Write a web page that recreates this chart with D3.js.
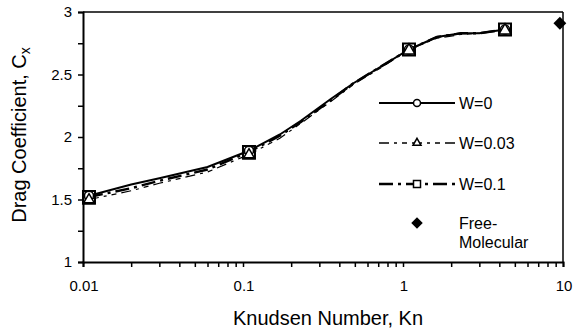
<!DOCTYPE html>
<html>
<head>
<meta charset="utf-8">
<script src="https://cdn.jsdelivr.net/npm/d3@7"></script>
<style>
  html, body { margin: 0; padding: 0; background: #fff; }
  svg { display: block; font-family: "Liberation Sans", Arial, sans-serif; }
</style>
</head>
<body>
<svg id="chart" width="576" height="335"></svg>
<script>
// Knudsen numbers along each computed curve
const kn = [0.0109, 0.02, 0.03, 0.06, 0.109, 0.17, 0.23, 0.35, 0.49, 0.72, 1.09, 1.63, 2.3, 3.0, 4.34];
// Drag coefficient for each wall parameter W
const cxW0   = [1.53, 1.62, 1.67, 1.76, 1.89, 2.02, 2.13, 2.30, 2.43, 2.56, 2.70, 2.80, 2.83, 2.83, 2.86];
const cxW003 = [1.50, 1.57, 1.63, 1.72, 1.86, 1.99, 2.11, 2.28, 2.42, 2.55, 2.70, 2.79, 2.82, 2.83, 2.86];
const cxW01  = [1.52, 1.59, 1.65, 1.74, 1.88, 2.01, 2.12, 2.29, 2.43, 2.56, 2.70, 2.80, 2.83, 2.83, 2.86];
// indices of the points that carry a marker
const markerIdx = [0, 4, 10, 14];
// free-molecular limit
const fmKn = [9.56];
const fmCx = [2.91];
// axis ticks
const xMajor = [0.01, 0.1, 1, 10];
const xMajorLabels = ["0.01", "0.1", "1", "10"];
const yTicks = [1, 1.25, 1.5, 1.75, 2, 2.25, 2.5, 2.75, 3];
const yLabels = ["1", "1.5", "2", "2.5", "3"];
const seriesNames = ["W=0", "W=0.03", "W=0.1"];

const svg = d3.select("#chart");
const x = d3.scaleLog().domain([0.01, 10]).range([83, 563]);
const y = d3.scaleLinear().domain([1, 3]).range([262, 12]);

// frame: top and right borders
svg.append("line").attr("x1", 83).attr("x2", 563).attr("y1", 12).attr("y2", 12)
  .attr("stroke", "#000").attr("stroke-width", 1.5);
svg.append("line").attr("x1", 563).attr("x2", 563).attr("y1", 12).attr("y2", 262)
  .attr("stroke", "#000").attr("stroke-width", 1.5);

// x axis with decade labels and minor ticks
const minor = [];
[0.01, 0.1, 1].forEach(d => { for (let k = 2; k <= 9; k++) minor.push(d * k); });
const xAxis = svg.append("g").attr("transform", "translate(0,262)")
  .call(d3.axisBottom(x).tickValues(xMajor.concat(minor)).tickSize(5).tickFormat(() => ""));
xAxis.select(".domain").attr("stroke-width", 2);
xAxis.selectAll(".tick line").attr("stroke-width", 1.5);
svg.append("g").selectAll("text").data(xMajor).join("text")
  .attr("x", d => x(d) + 1).attr("y", 291).attr("text-anchor", "middle")
  .attr("font-size", 15).text((d, i) => xMajorLabels[i]);

// y axis
const yAxis = svg.append("g").attr("transform", "translate(83,0)")
  .call(d3.axisLeft(y).tickValues(yTicks).tickSize(5).tickFormat(() => ""));
yAxis.select(".domain").attr("stroke-width", 2);
yAxis.selectAll(".tick line").attr("stroke-width", 1.5);
svg.append("g").selectAll("text").data(yLabels).join("text")
  .attr("x", 72).attr("y", d => y(+d) + 5).attr("text-anchor", "end")
  .attr("font-size", 15).text(d => d);

// axis titles
svg.append("text").attr("x", 328).attr("y", 325).attr("text-anchor", "middle")
  .attr("font-size", 20).text("Knudsen Number, Kn");
const yt = svg.append("text").attr("transform", "translate(26,135) rotate(-90)")
  .attr("text-anchor", "middle").attr("font-size", 20);
yt.append("tspan").text("Drag Coefficient, C");
yt.append("tspan").attr("font-size", 14).attr("dy", 4).text("x");

// curves
const styles = [
  { data: cxW0,   width: 2,   dash: null },
  { data: cxW003, width: 1.2, dash: "10,5,3,5,5,5" },
  { data: cxW01,  width: 2.4, dash: "14,5,3,5" }
];
const line = d3.line().x(d => x(d[0])).y(d => y(d[1]));
styles.forEach(s => {
  svg.append("path").datum(kn.map((k, i) => [k, s.data[i]]))
    .attr("d", line).attr("fill", "none").attr("stroke", "#000")
    .attr("stroke-width", s.width).attr("stroke-dasharray", s.dash);
});

// markers
const pts = (arr) => markerIdx.map(i => [kn[i], arr[i]]);
svg.append("g").selectAll("circle").data(pts(cxW0)).join("circle")
  .attr("cx", d => x(d[0])).attr("cy", d => y(d[1])).attr("r", 4.5)
  .attr("fill", "#fff").attr("stroke", "#000").attr("stroke-width", 1.5);
const tri = d3.symbol().type(d3.symbolTriangle).size(60);
svg.append("g").selectAll("path").data(pts(cxW003)).join("path")
  .attr("transform", d => `translate(${x(d[0])},${y(d[1]) + 1})`).attr("d", tri)
  .attr("fill", "#fff").attr("stroke", "#000").attr("stroke-width", 1.5);
svg.append("g").selectAll("rect").data(pts(cxW01)).join("rect")
  .attr("x", d => x(d[0]) - 6).attr("y", d => y(d[1]) - 6).attr("width", 12).attr("height", 12)
  .attr("fill", "none").attr("stroke", "#000").attr("stroke-width", 2);

// free-molecular point
const diamond = d3.symbol().type(d3.symbolDiamond2).size(105);
svg.append("g").selectAll("path").data(fmKn.map((k, i) => [k, fmCx[i]])).join("path")
  .attr("transform", d => `translate(${x(d[0])},${y(d[1])})`).attr("d", diamond).attr("fill", "#000");

// legend
const legY = [103, 143, 184];
const lg = svg.append("g");
styles.forEach((s, i) => {
  lg.append("line").attr("x1", 379).attr("x2", 455).attr("y1", legY[i]).attr("y2", legY[i])
    .attr("stroke", "#000").attr("stroke-width", i === 1 ? 1.5 : s.width).attr("stroke-dasharray", s.dash);
  lg.append("text").attr("x", 459).attr("y", legY[i] + 5.5).attr("font-size", 16).text(seriesNames[i]);
});
lg.append("circle").attr("cx", 417).attr("cy", legY[0]).attr("r", 3.5)
  .attr("fill", "#fff").attr("stroke", "#000").attr("stroke-width", 1.5);
lg.append("path").attr("transform", `translate(417,${legY[1]})`)
  .attr("d", d3.symbol().type(d3.symbolTriangle).size(28))
  .attr("fill", "#fff").attr("stroke", "#000").attr("stroke-width", 1.5);
lg.append("rect").attr("x", 413.5).attr("y", legY[2] - 3.5).attr("width", 7).attr("height", 7)
  .attr("fill", "#fff").attr("stroke", "#000").attr("stroke-width", 1.5);
lg.append("path").attr("transform", "translate(417,223)")
  .attr("d", d3.symbol().type(d3.symbolDiamond2).size(85)).attr("fill", "#000");
lg.append("text").attr("x", 459).attr("y", 229).attr("font-size", 16).text("Free-");
lg.append("text").attr("x", 459).attr("y", 248).attr("font-size", 16).text("Molecular");
</script>
</body>
</html>
